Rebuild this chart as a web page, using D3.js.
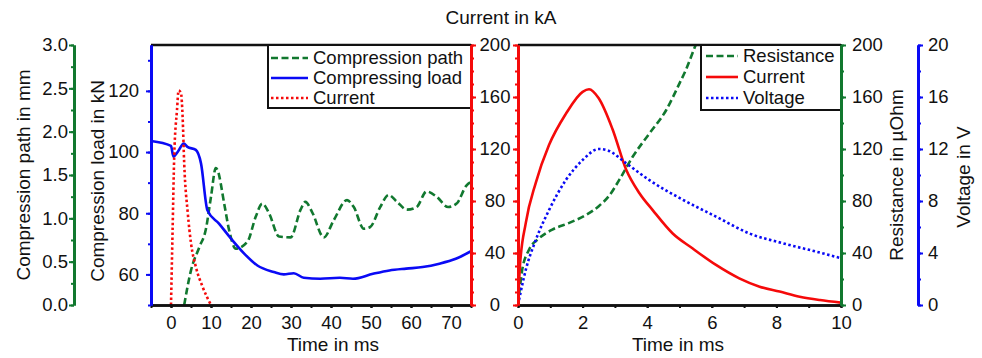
<!DOCTYPE html>
<html>
<head>
<meta charset="utf-8">
<script src="https://cdn.jsdelivr.net/npm/d3@7"></script>
<style>
  body { margin: 0; background: #fff; }
  svg { font-family: "Liberation Sans", Arial, sans-serif; }
</style>
</head>
<body>
<svg width="982" height="358"></svg>
<script>
// left panel: compression test over time (ms)
var loadTime = [-5, 0, 0.6, 1.7, 3.2, 4.1, 6.2, 7.5, 9.1, 12, 15, 18.3, 21.6, 25.7, 28.2, 30.7, 33.2, 37.3, 42.2, 45.5, 50.5, 54.6, 58.8, 62.9, 67.1, 71.2, 75];
var loadKN = [103.6, 102, 98.5, 100.1, 102.8, 101.7, 100.7, 96.3, 81, 76.6, 71.7, 66.8, 62.9, 60.8, 60, 60.4, 58.9, 58.6, 58.9, 58.6, 60.2, 61.3, 61.9, 62.4, 63.5, 65.1, 67.6];

var pathTime = [3.3, 5, 7.1, 8.7, 10, 11.2, 11.6, 13.3, 14.5, 16.2, 19.1, 21.2, 22.8, 24.5, 27, 29.9, 32.4, 33.6, 35.3, 38.2, 40.7, 44, 45.7, 48.2, 49.8, 52.3, 54.4, 56.5, 59, 61.4, 63.9, 66.4, 69.3, 71.4, 73.9, 75];
var pathMM = [0, 0.4, 0.67, 0.87, 1.25, 1.58, 1.56, 1.17, 0.87, 0.65, 0.73, 1.02, 1.17, 1.06, 0.79, 0.78, 1.1, 1.19, 1.07, 0.78, 0.98, 1.21, 1.13, 0.88, 0.9, 1.13, 1.27, 1.19, 1.1, 1.13, 1.31, 1.25, 1.13, 1.17, 1.38, 1.42];

var pulseTime = [0, 0.4, 0.8, 1.5, 1.9, 2.5, 2.9, 3.3, 4.2, 5, 6.2, 7.9, 10];
var pulseKA = [0, 57.7, 114, 150, 165, 163, 145, 109, 70.5, 47.5, 29.5, 14, 0];

// right panel: weld pulse over time (ms)
var currentTime = [0, 0.06, 0.24, 0.55, 0.96, 1.48, 2.0, 2.2, 2.5, 2.93, 3.35, 3.76, 4.17, 4.79, 5.4, 6.13, 6.85, 7.48, 8.1, 8.72, 9.35, 10];
var currentKA = [0, 30, 63, 94, 123, 147, 164, 166, 159, 135, 104, 86, 73, 55, 43.6, 30.8, 20.5, 14.1, 10.3, 6.4, 3.8, 1.8];

var resTime = [0, 0.13, 0.33, 0.64, 1.06, 1.57, 2.09, 2.5, 2.82, 3.13, 3.55, 4.07, 4.59, 5.0, 5.2, 5.5, 5.7];
var resUOhm = [0, 27, 42, 51, 58, 63, 69, 76, 84, 96, 114, 132, 150, 170.5, 181, 200, 212];

var voltTime = [0, 0.24, 0.55, 0.96, 1.48, 2.0, 2.5, 2.77, 3.35, 4.07, 5.1, 6.13, 7.17, 8.2, 9.24, 10];
var voltV = [0, 2.7, 5.0, 7.3, 9.6, 11.15, 12.0, 11.9, 10.9, 9.6, 8.1, 6.8, 5.5, 4.75, 4.1, 3.6];

var leftLegend = ['Compression path', 'Compressing load', 'Current'];
var rightLegend = ['Resistance', 'Current', 'Voltage'];

var GREEN = '#11782f', BLUE = '#0a0af5', RED = '#f50a0a';
var DASH = '7,3.5', DOT = '2.5,2.5';
var FS = '18.5px';

var svg = d3.select('svg');
var yTop = 45, yBot = 305;
var L = {x0: 151, x1: 471}, R = {x0: 518, x1: 841};

var xL = d3.scaleLinear().domain([-5, 75]).range([L.x0, L.x1]);
var xR = d3.scaleLinear().domain([0, 10]).range([R.x0, R.x1]);
var yLoad = d3.scaleLinear().domain([50, 135]).range([yBot, yTop]);
var yPath = d3.scaleLinear().domain([0, 3]).range([yBot, yTop]);
var yCur = d3.scaleLinear().domain([0, 200]).range([yBot, yTop]);
var yRes = d3.scaleLinear().domain([0, 200]).range([yBot, yTop]);
var yVolt = d3.scaleLinear().domain([0, 20]).range([yBot, yTop]);

function range(a, b, s) {
  return d3.range(a, b + s / 2, s);
}

// draws a coloured axis: minor ticks first, then major ticks with labels
function axis(maker, scale, x, major, minor, color, pad, fmt) {
  var g = svg.append('g').attr('transform', 'translate(' + x + ',0)');
  g.append('g').call(maker(scale).tickValues(minor).tickSize(3).tickSizeOuter(0).tickFormat(''));
  var m = g.append('g').call(maker(scale).tickValues(major).tickSize(5).tickSizeOuter(0).tickPadding(pad).tickFormat(fmt || null));
  g.selectAll('.domain').attr('stroke', color).attr('stroke-width', 3);
  g.selectAll('line').attr('stroke', color).attr('stroke-width', 2);
  m.selectAll('text').attr('fill', '#111').style('font-size', FS).style('font-family', null);
  return m;
}

// clip regions
var defs = svg.append('defs');
defs.append('clipPath').attr('id', 'clipL').append('rect')
  .attr('x', L.x0).attr('y', yTop).attr('width', L.x1 - L.x0).attr('height', yBot - yTop);
defs.append('clipPath').attr('id', 'clipR').append('rect')
  .attr('x', R.x0).attr('y', yTop).attr('width', R.x1 - R.x0).attr('height', yBot - yTop);

function series(clip, xs, ys, xScale, yScale, color, dash) {
  var pts = xs.map(function(t, i) { return [t, ys[i]]; });
  var line = d3.line().x(function(d) { return xScale(d[0]); }).y(function(d) { return yScale(d[1]); })
    .curve(d3.curveMonotoneX);
  svg.append('path').attr('clip-path', 'url(#' + clip + ')').datum(pts)
    .attr('d', line).attr('fill', 'none').attr('stroke', color).attr('stroke-width', 2.6)
    .attr('stroke-dasharray', dash);
}

// curves
series('clipL', pathTime, pathMM, xL, yPath, GREEN, DASH);
series('clipL', loadTime, loadKN, xL, yLoad, BLUE, null);
series('clipL', pulseTime, pulseKA, xL, yCur, RED, DOT);

series('clipR', resTime, resUOhm, xR, yRes, GREEN, DASH);
series('clipR', currentTime, currentKA, xR, yCur, RED, null);
series('clipR', voltTime, voltV, xR, yVolt, BLUE, DOT);

// black frame tops
[L, R].forEach(function(p) {
  svg.append('line').attr('x1', p.x0).attr('x2', p.x1).attr('y1', yTop).attr('y2', yTop)
    .attr('stroke', '#111').attr('stroke-width', 2.5);
});

// bottom time axes
function timeAxis(scale, major, minor) {
  var g = svg.append('g').attr('transform', 'translate(0,' + yBot + ')');
  g.append('g').call(d3.axisBottom(scale).tickValues(minor).tickSize(3).tickSizeOuter(0).tickFormat(''));
  var m = g.append('g').call(d3.axisBottom(scale).tickValues(major).tickSize(3).tickSizeOuter(0).tickPadding(8));
  g.selectAll('.domain').attr('stroke', '#111').attr('stroke-width', 2.5);
  g.selectAll('line').attr('stroke', '#111').attr('stroke-width', 2);
  m.selectAll('text').attr('fill', '#111').style('font-size', FS);
}
timeAxis(xL, range(0, 70, 10), range(-5, 75, 5));
timeAxis(xR, range(0, 10, 2), range(0, 10, 1));

// legends
function legend(x0, x1, y0, y1, rows, names, styles, lx0, lx1, tx) {
  svg.append('rect').attr('x', x0).attr('y', y0).attr('width', x1 - x0).attr('height', y1 - y0)
    .attr('fill', '#fff').attr('stroke', '#111').attr('stroke-width', 2);
  names.forEach(function(n, i) {
    svg.append('line').attr('x1', lx0).attr('x2', lx1).attr('y1', rows[i]).attr('y2', rows[i])
      .attr('stroke', styles[i][0]).attr('stroke-width', 2.6).attr('stroke-dasharray', styles[i][1]);
    svg.append('text').attr('x', tx).attr('y', rows[i]).attr('dy', '0.35em')
      .style('font-size', FS).attr('fill', '#111').text(n);
  });
}
legend(268, L.x1, yTop, 108, [58, 78, 98], leftLegend, [[GREEN, DASH], [BLUE, null], [RED, DOT]], 271, 308, 313);
legend(701, R.x1, yTop, 110, [56, 77, 98], rightLegend, [[GREEN, DASH], [RED, null], [BLUE, DOT]], 706, 738, 743);

// value axes (drawn after legends so the spines sit on top)
axis(d3.axisLeft, yPath, 74, range(0, 3, 0.5), range(0, 3, 0.25), GREEN, 1, d3.format('.1f'));
axis(d3.axisLeft, yLoad, L.x0, range(60, 120, 20), range(50, 130, 10), BLUE, 7);
var mid = axis(d3.axisRight, yCur, L.x1, range(0, 200, 40), range(0, 200, 10), RED, 0);
mid.selectAll('text').attr('text-anchor', 'middle').attr('x', 24);
axis(d3.axisLeft, yCur, R.x0, range(0, 200, 40), range(0, 200, 10), RED, 0, function() { return ''; });
axis(d3.axisRight, yRes, R.x1, range(0, 200, 40), range(0, 200, 20), GREEN, 6);
axis(d3.axisRight, yVolt, 918, range(0, 20, 4), range(0, 20, 2), BLUE, 5);

// titles
function label(x, y, rot, s) {
  svg.append('text').attr('transform', 'translate(' + x + ',' + y + ') rotate(' + rot + ')')
    .attr('text-anchor', 'middle').attr('dy', '0.35em').style('font-size', '19px').attr('fill', '#111').text(s);
}
label(501, 17, 0, 'Current in kA');
label(23, 175, -90, 'Compression path in mm');
label(97, 181, -90, 'Compression load in kN');
label(896, 175, -90, 'Resistance in µOhm');
label(963, 177, -90, 'Voltage in V');
label(333, 344, 0, 'Time in ms');
label(678, 344, 0, 'Time in ms');
</script>
</body>
</html>
